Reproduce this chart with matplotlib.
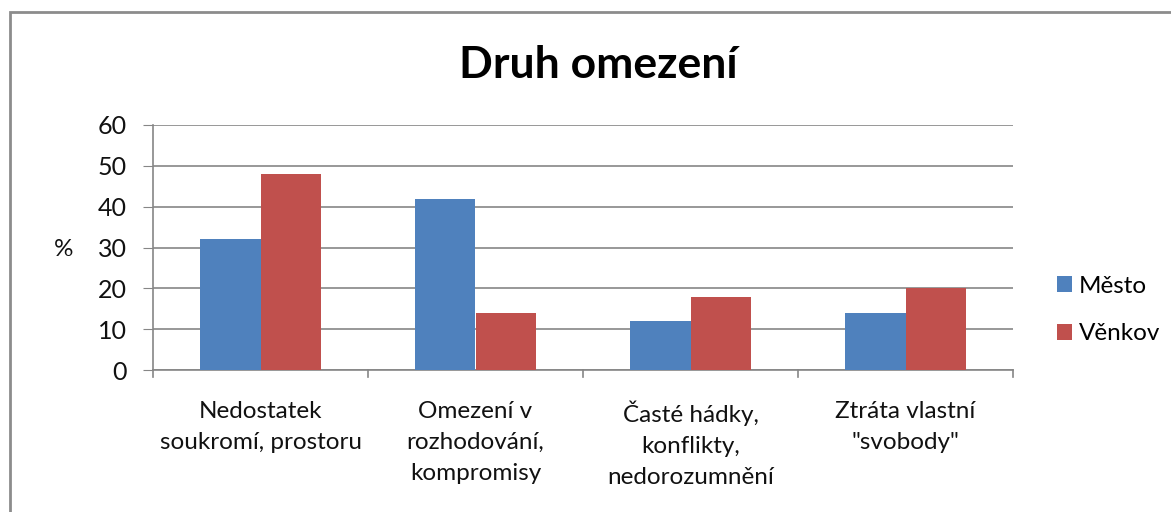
import numpy as np
import matplotlib.pyplot as plt
from matplotlib.patches import Rectangle

# data
categories = ["Nedostatek\nsoukromí, prostoru",
              "Omezení v\nrozhodování,\nkompromisy",
              "Časté hádky,\nkonflikty,\nnedorozumnění",
              "Ztráta vlastní\n\"svobody\""]
mesto = [32, 42, 12, 14]
venkov = [48, 14, 18, 20]
series_names = ["Město", "Věnkov"]
yticks = [0, 10, 20, 30, 40, 50, 60]

plt.rcParams['font.family'] = ['Lato', 'DejaVu Sans']

fig = plt.figure(figsize=(11.71, 5.12), dpi=100)
ax = fig.add_axes([153/1171, 1 - 370/512, (1013-153)/1171, (370-125)/512])

# outer chart frame (cropped at right/bottom like the reference)
fig.patches.append(Rectangle((10/1171, -0.05), 1.2, 1 - 12/512 + 0.05,
                             transform=fig.transFigure, fill=False,
                             edgecolor='#8c8c8c', linewidth=2))

x = np.arange(len(categories))
w = 0.28
ax.bar(x - w/2, mesto, w, color='#4f81bd', label=series_names[0], zorder=3)
ax.bar(x + w/2, venkov, w, color='#c0504d', label=series_names[1], zorder=3)

ax.set_xlim(-0.5, len(categories) - 0.5)
ax.set_ylim(0, 60)
ax.set_yticks(yticks)
ax.tick_params(axis='y', length=7, color='#868686', labelsize=18, pad=12, labelcolor='#111111')
ax.yaxis.grid(True, color='#868686', linewidth=1.2, zorder=0)

ax.set_xticks(x)
ax.set_xticklabels(categories, fontsize=17.5, color='#111111', linespacing=1.6)
ax.tick_params(axis='x', length=0, pad=22)
# category boundary tick marks
for b in np.arange(-0.5, len(categories) + 0.5, 1):
    ax.plot([b, b], [0, -1.6], color='#868686', linewidth=1.2, clip_on=False, zorder=4)

for s in ['top', 'right']:
    ax.spines[s].set_visible(False)
for s in ['left', 'bottom']:
    ax.spines[s].set_color('#868686')
    ax.spines[s].set_linewidth(1.2)

fig.text(64/1171, 1 - 250/512, "%", fontsize=17.5, ha='center', va='center', color='#111111')
fig.text(598/1171, 1 - 65/512, "Druh omezení", fontsize=32, fontweight='bold',
         ha='center', va='center', color='black')

ax.legend(loc='center left', bbox_to_anchor=(1057/1171, 1 - 310/512),
          bbox_transform=fig.transFigure, frameon=False, fontsize=17.5,
          borderpad=0, borderaxespad=0,
          handlelength=0.6, handleheight=0.6, handletextpad=0.3, labelspacing=1.1)

fig.savefig("out.png", dpi=100)
